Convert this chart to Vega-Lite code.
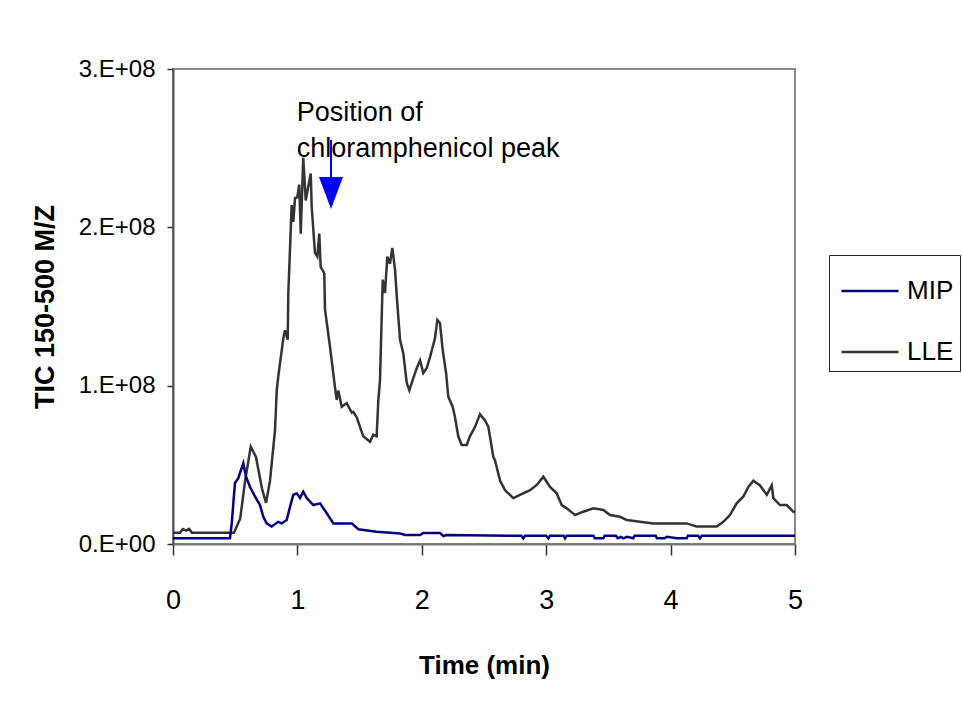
{
  "$schema": "https://vega.github.io/schema/vega-lite/v6.json",
  "width": 622,
  "height": 475,
  "autosize": "none",
  "padding": {"left": 173, "top": 69, "right": 167, "bottom": 174},
  "background": "white",
  "config": {
    "view": {"stroke": "#888888", "strokeWidth": 2},
    "font": "Liberation Sans"
  },
  "datasets": {
    "traces": [
      {"series": "LLE", "t": 0, "v": 7100000},
      {"series": "LLE", "t": 0.056, "v": 7100000},
      {"series": "LLE", "t": 0.08, "v": 9500000},
      {"series": "LLE", "t": 0.105, "v": 8500000},
      {"series": "LLE", "t": 0.129, "v": 9500000},
      {"series": "LLE", "t": 0.153, "v": 7100000},
      {"series": "LLE", "t": 0.49, "v": 7100000},
      {"series": "LLE", "t": 0.54, "v": 16000000},
      {"series": "LLE", "t": 0.58, "v": 40000000},
      {"series": "LLE", "t": 0.625, "v": 61500000},
      {"series": "LLE", "t": 0.667, "v": 55000000},
      {"series": "LLE", "t": 0.715, "v": 35000000},
      {"series": "LLE", "t": 0.748, "v": 26000000},
      {"series": "LLE", "t": 0.78, "v": 40000000},
      {"series": "LLE", "t": 0.82, "v": 72000000},
      {"series": "LLE", "t": 0.834, "v": 97000000},
      {"series": "LLE", "t": 0.846, "v": 105700000},
      {"series": "LLE", "t": 0.887, "v": 130000000},
      {"series": "LLE", "t": 0.9, "v": 135000000},
      {"series": "LLE", "t": 0.922, "v": 129000000},
      {"series": "LLE", "t": 0.927, "v": 158500000},
      {"series": "LLE", "t": 0.954, "v": 214000000},
      {"series": "LLE", "t": 0.967, "v": 203500000},
      {"series": "LLE", "t": 0.981, "v": 218500000},
      {"series": "LLE", "t": 0.999, "v": 219000000},
      {"series": "LLE", "t": 1.015, "v": 227000000},
      {"series": "LLE", "t": 1.027, "v": 196000000},
      {"series": "LLE", "t": 1.047, "v": 244000000},
      {"series": "LLE", "t": 1.067, "v": 217000000},
      {"series": "LLE", "t": 1.088, "v": 226000000},
      {"series": "LLE", "t": 1.107, "v": 234000000},
      {"series": "LLE", "t": 1.115, "v": 213000000},
      {"series": "LLE", "t": 1.141, "v": 184000000},
      {"series": "LLE", "t": 1.16, "v": 181500000},
      {"series": "LLE", "t": 1.176, "v": 196000000},
      {"series": "LLE", "t": 1.187, "v": 175000000},
      {"series": "LLE", "t": 1.216, "v": 171000000},
      {"series": "LLE", "t": 1.222, "v": 148000000},
      {"series": "LLE", "t": 1.262, "v": 124600000},
      {"series": "LLE", "t": 1.302, "v": 99000000},
      {"series": "LLE", "t": 1.316, "v": 91000000},
      {"series": "LLE", "t": 1.329, "v": 97000000},
      {"series": "LLE", "t": 1.356, "v": 86700000},
      {"series": "LLE", "t": 1.396, "v": 89000000},
      {"series": "LLE", "t": 1.437, "v": 83000000},
      {"series": "LLE", "t": 1.449, "v": 83500000},
      {"series": "LLE", "t": 1.477, "v": 80000000},
      {"series": "LLE", "t": 1.503, "v": 74000000},
      {"series": "LLE", "t": 1.53, "v": 68000000},
      {"series": "LLE", "t": 1.584, "v": 64600000},
      {"series": "LLE", "t": 1.61, "v": 69000000},
      {"series": "LLE", "t": 1.637, "v": 68000000},
      {"series": "LLE", "t": 1.65, "v": 90000000},
      {"series": "LLE", "t": 1.664, "v": 103600000},
      {"series": "LLE", "t": 1.686, "v": 167000000},
      {"series": "LLE", "t": 1.704, "v": 158500000},
      {"series": "LLE", "t": 1.723, "v": 181500000},
      {"series": "LLE", "t": 1.744, "v": 177000000},
      {"series": "LLE", "t": 1.763, "v": 187000000},
      {"series": "LLE", "t": 1.785, "v": 173000000},
      {"series": "LLE", "t": 1.803, "v": 152000000},
      {"series": "LLE", "t": 1.825, "v": 129000000},
      {"series": "LLE", "t": 1.851, "v": 120500000},
      {"series": "LLE", "t": 1.879, "v": 101700000},
      {"series": "LLE", "t": 1.9, "v": 97000000},
      {"series": "LLE", "t": 1.927, "v": 103600000},
      {"series": "LLE", "t": 1.959, "v": 111000000},
      {"series": "LLE", "t": 1.986, "v": 116000000},
      {"series": "LLE", "t": 2.012, "v": 108000000},
      {"series": "LLE", "t": 2.039, "v": 111000000},
      {"series": "LLE", "t": 2.066, "v": 118000000},
      {"series": "LLE", "t": 2.088, "v": 124600000},
      {"series": "LLE", "t": 2.106, "v": 130000000},
      {"series": "LLE", "t": 2.125, "v": 141500000},
      {"series": "LLE", "t": 2.146, "v": 139500000},
      {"series": "LLE", "t": 2.168, "v": 122500000},
      {"series": "LLE", "t": 2.195, "v": 108000000},
      {"series": "LLE", "t": 2.213, "v": 93000000},
      {"series": "LLE", "t": 2.248, "v": 86700000},
      {"series": "LLE", "t": 2.267, "v": 80000000},
      {"series": "LLE", "t": 2.293, "v": 68000000},
      {"series": "LLE", "t": 2.321, "v": 62500000},
      {"series": "LLE", "t": 2.361, "v": 62500000},
      {"series": "LLE", "t": 2.387, "v": 68000000},
      {"series": "LLE", "t": 2.428, "v": 74000000},
      {"series": "LLE", "t": 2.468, "v": 82000000},
      {"series": "LLE", "t": 2.508, "v": 78000000},
      {"series": "LLE", "t": 2.535, "v": 74000000},
      {"series": "LLE", "t": 2.575, "v": 55000000},
      {"series": "LLE", "t": 2.588, "v": 53000000},
      {"series": "LLE", "t": 2.629, "v": 40000000},
      {"series": "LLE", "t": 2.669, "v": 34000000},
      {"series": "LLE", "t": 2.736, "v": 29000000},
      {"series": "LLE", "t": 2.789, "v": 31000000},
      {"series": "LLE", "t": 2.87, "v": 34000000},
      {"series": "LLE", "t": 2.924, "v": 37300000},
      {"series": "LLE", "t": 2.977, "v": 42500000},
      {"series": "LLE", "t": 3.031, "v": 36000000},
      {"series": "LLE", "t": 3.084, "v": 32000000},
      {"series": "LLE", "t": 3.125, "v": 24600000},
      {"series": "LLE", "t": 3.165, "v": 22500000},
      {"series": "LLE", "t": 3.232, "v": 18300000},
      {"series": "LLE", "t": 3.298, "v": 20400000},
      {"series": "LLE", "t": 3.379, "v": 22500000},
      {"series": "LLE", "t": 3.459, "v": 21500000},
      {"series": "LLE", "t": 3.513, "v": 18300000},
      {"series": "LLE", "t": 3.593, "v": 17200000},
      {"series": "LLE", "t": 3.647, "v": 15200000},
      {"series": "LLE", "t": 3.754, "v": 14100000},
      {"series": "LLE", "t": 3.861, "v": 13000000},
      {"series": "LLE", "t": 4.129, "v": 13000000},
      {"series": "LLE", "t": 4.21, "v": 11000000},
      {"series": "LLE", "t": 4.371, "v": 11000000},
      {"series": "LLE", "t": 4.424, "v": 14000000},
      {"series": "LLE", "t": 4.477, "v": 18300000},
      {"series": "LLE", "t": 4.531, "v": 25700000},
      {"series": "LLE", "t": 4.585, "v": 30000000},
      {"series": "LLE", "t": 4.625, "v": 36000000},
      {"series": "LLE", "t": 4.665, "v": 40000000},
      {"series": "LLE", "t": 4.719, "v": 37000000},
      {"series": "LLE", "t": 4.773, "v": 31000000},
      {"series": "LLE", "t": 4.813, "v": 37000000},
      {"series": "LLE", "t": 4.826, "v": 29000000},
      {"series": "LLE", "t": 4.879, "v": 24600000},
      {"series": "LLE", "t": 4.933, "v": 24600000},
      {"series": "LLE", "t": 4.986, "v": 20400000},
      {"series": "LLE", "t": 5.0, "v": 20000000},
      {"series": "MIP", "t": 0, "v": 3600000},
      {"series": "MIP", "t": 0.458, "v": 3600000},
      {"series": "MIP", "t": 0.472, "v": 13000000},
      {"series": "MIP", "t": 0.498, "v": 38500000},
      {"series": "MIP", "t": 0.525, "v": 41500000},
      {"series": "MIP", "t": 0.539, "v": 45000000},
      {"series": "MIP", "t": 0.565, "v": 51000000},
      {"series": "MIP", "t": 0.587, "v": 42500000},
      {"series": "MIP", "t": 0.619, "v": 36000000},
      {"series": "MIP", "t": 0.659, "v": 30000000},
      {"series": "MIP", "t": 0.699, "v": 24600000},
      {"series": "MIP", "t": 0.726, "v": 17200000},
      {"series": "MIP", "t": 0.753, "v": 13000000},
      {"series": "MIP", "t": 0.793, "v": 11000000},
      {"series": "MIP", "t": 0.846, "v": 14000000},
      {"series": "MIP", "t": 0.874, "v": 13000000},
      {"series": "MIP", "t": 0.914, "v": 15200000},
      {"series": "MIP", "t": 0.941, "v": 23600000},
      {"series": "MIP", "t": 0.967, "v": 31000000},
      {"series": "MIP", "t": 0.994, "v": 32000000},
      {"series": "MIP", "t": 1.021, "v": 29000000},
      {"series": "MIP", "t": 1.047, "v": 33000000},
      {"series": "MIP", "t": 1.075, "v": 29000000},
      {"series": "MIP", "t": 1.128, "v": 24600000},
      {"series": "MIP", "t": 1.182, "v": 25700000},
      {"series": "MIP", "t": 1.236, "v": 19400000},
      {"series": "MIP", "t": 1.289, "v": 13000000},
      {"series": "MIP", "t": 1.437, "v": 13000000},
      {"series": "MIP", "t": 1.49, "v": 9300000},
      {"series": "MIP", "t": 1.637, "v": 7800000},
      {"series": "MIP", "t": 1.825, "v": 6700000},
      {"series": "MIP", "t": 1.865, "v": 5700000},
      {"series": "MIP", "t": 1.986, "v": 5700000},
      {"series": "MIP", "t": 2.012, "v": 7000000},
      {"series": "MIP", "t": 2.146, "v": 7000000},
      {"series": "MIP", "t": 2.173, "v": 5000000},
      {"series": "MIP", "t": 2.195, "v": 5700000},
      {"series": "MIP", "t": 2.8, "v": 5200000},
      {"series": "MIP", "t": 2.816, "v": 3600000},
      {"series": "MIP", "t": 2.83, "v": 5200000},
      {"series": "MIP", "t": 3.0, "v": 5200000},
      {"series": "MIP", "t": 3.017, "v": 3600000},
      {"series": "MIP", "t": 3.03, "v": 5200000},
      {"series": "MIP", "t": 3.14, "v": 5200000},
      {"series": "MIP", "t": 3.151, "v": 3600000},
      {"series": "MIP", "t": 3.165, "v": 5200000},
      {"series": "MIP", "t": 3.38, "v": 5200000},
      {"series": "MIP", "t": 3.39, "v": 3600000},
      {"series": "MIP", "t": 3.46, "v": 3600000},
      {"series": "MIP", "t": 3.47, "v": 5200000},
      {"series": "MIP", "t": 3.56, "v": 5200000},
      {"series": "MIP", "t": 3.575, "v": 3600000},
      {"series": "MIP", "t": 3.6, "v": 4500000},
      {"series": "MIP", "t": 3.62, "v": 3600000},
      {"series": "MIP", "t": 3.65, "v": 4500000},
      {"series": "MIP", "t": 3.7, "v": 3600000},
      {"series": "MIP", "t": 3.71, "v": 5200000},
      {"series": "MIP", "t": 3.88, "v": 5200000},
      {"series": "MIP", "t": 3.89, "v": 3600000},
      {"series": "MIP", "t": 3.95, "v": 3600000},
      {"series": "MIP", "t": 3.97, "v": 4500000},
      {"series": "MIP", "t": 4.05, "v": 3600000},
      {"series": "MIP", "t": 4.13, "v": 3600000},
      {"series": "MIP", "t": 4.14, "v": 5200000},
      {"series": "MIP", "t": 4.22, "v": 5200000},
      {"series": "MIP", "t": 4.236, "v": 3600000},
      {"series": "MIP", "t": 4.25, "v": 5200000},
      {"series": "MIP", "t": 5.0, "v": 5200000}
    ],
    "arrow": [
      {"t": 1.27, "top": 255200000, "bottom": 231800000, "head": 221700000}
    ],
    "note": [
      {"t": 0.995, "v": 267000000, "label": ["Position of", "chloramphenicol peak"]}
    ]
  },
  "encoding": {
    "x": {
      "field": "t",
      "type": "quantitative",
      "scale": {"domain": [0, 5], "nice": false, "zero": false},
      "axis": {
        "title": "Time (min)",
        "values": [0, 1, 2, 3, 4, 5],
        "format": "d",
        "grid": false,
        "domainColor": "#777777",
        "domainWidth": 2,
        "tickColor": "#333333",
        "tickSize": 11,
        "tickWidth": 1.5,
        "labelFont": "Liberation Sans",
        "labelFontSize": 27,
        "labelColor": "#000000",
        "labelBaseline": "alphabetic",
        "labelPadding": 53,
        "labelFlush": false,
        "titleFont": "Liberation Sans",
        "titleFontSize": 26,
        "titleFontWeight": "bold",
        "titleColor": "#000000",
        "titleBaseline": "alphabetic",
        "titleY": 129
      }
    }
  },
  "layer": [
    {
      "data": {"name": "traces"},
      "mark": {"type": "line", "strokeWidth": 2.5, "interpolate": "linear"},
      "encoding": {
        "y": {
          "field": "v",
          "type": "quantitative",
          "scale": {"domain": [0, 300000000], "nice": false},
          "axis": {
            "title": "TIC 150-500 M/Z",
            "values": [0, 100000000, 200000000, 300000000],
            "labelExpr": "datum.value == 0 ? '0.E+00' : (datum.value / 100000000) + '.E+08'",
            "grid": false,
            "domainColor": "#555555",
            "domainWidth": 2,
            "tickColor": "#333333",
            "tickSize": 6,
            "tickWidth": 1.5,
            "labelFont": "Liberation Sans",
            "labelFontSize": 24,
            "labelColor": "#000000",
            "labelPadding": 12,
            "labelFlush": false,
            "titleFont": "Liberation Sans",
            "titleFontSize": 27,
            "titleFontWeight": "bold",
            "titleColor": "#000000",
            "titleX": -128,
            "titleY": 237.5,
            "titleAngle": -90,
            "titleAlign": "center",
            "titleBaseline": "middle"
          }
        },
        "color": {
          "field": "series",
          "type": "nominal",
          "scale": {"domain": ["MIP", "LLE"], "range": ["#000080", "#333333"]},
          "legend": {
            "title": null,
            "orient": "none",
            "legendX": 656,
            "legendY": 186,
            "strokeColor": "#222222",
            "padding": 6,
            "symbolOffset": 5,
            "symbolType": "stroke",
            "symbolSize": 3249,
            "symbolStrokeWidth": 2.5,
            "labelFont": "Liberation Sans",
            "labelFontSize": 26,
            "labelColor": "#000000",
            "labelOffset": 7,
            "rowPadding": 18
          }
        }
      }
    },
    {
      "data": {"name": "arrow"},
      "mark": {"type": "rule", "color": "#0000ff", "strokeWidth": 2},
      "encoding": {
        "y": {"field": "top", "type": "quantitative"},
        "y2": {"field": "bottom"}
      }
    },
    {
      "data": {"name": "arrow"},
      "mark": {"type": "point", "shape": "M-0.75,-1L0.75,-1L0,1Z", "filled": true, "color": "#0000ff", "opacity": 1, "size": 1024, "strokeWidth": 0},
      "encoding": {
        "y": {"field": "head", "type": "quantitative"}
      }
    },
    {
      "data": {"name": "note"},
      "mark": {"type": "text", "align": "left", "baseline": "alphabetic", "fontSize": 27, "lineHeight": 36, "font": "Liberation Sans", "color": "#000000"},
      "encoding": {
        "y": {"field": "v", "type": "quantitative"},
        "text": {"field": "label"}
      }
    }
  ]
}
